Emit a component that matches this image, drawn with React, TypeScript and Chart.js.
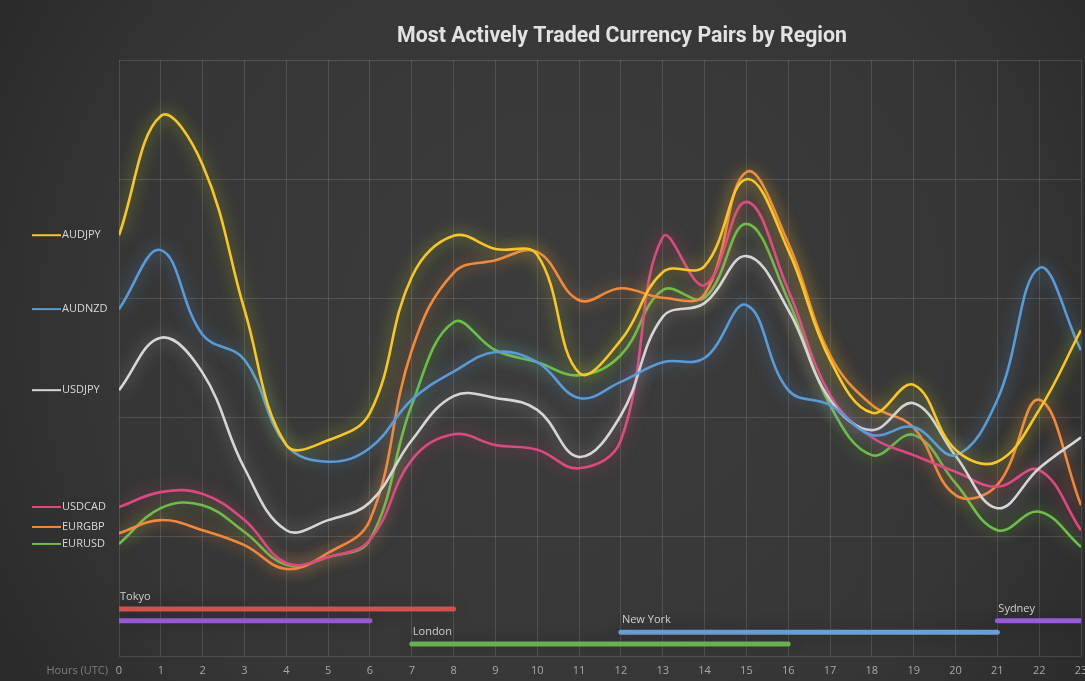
import React, { useEffect, useRef } from "react";
import { Chart, registerables } from "chart.js";

Chart.register(...registerables);

const hours = [0, 1, 2, 3, 4, 5, 6, 7, 8, 9, 10, 11, 12, 13, 14, 15, 16, 17, 18, 19, 20, 21, 22, 23];

const seriesNames = ["AUDJPY", "AUDNZD", "USDJPY", "USDCAD", "EURGBP", "EURUSD"];

const audjpy = [70.6, 90.6, 82.4, 58.1, 35.4, 36.2, 40.8, 63.6, 70.5, 68.3, 67.3, 47.5, 53.0, 64.4, 65.4, 80.0, 68.1, 49.7, 40.8, 45.5, 34.6, 32.6, 41.3, 54.7];
const audnzd = [58.2, 68.1, 53.9, 49.7, 35.4, 32.6, 34.9, 43.0, 47.7, 51.0, 49.3, 43.3, 46.0, 49.3, 50.0, 58.9, 44.6, 42.1, 37.1, 38.4, 33.7, 43.0, 65.1, 51.3];
const usdjpy = [44.6, 53.4, 47.5, 31.5, 21.1, 22.8, 25.8, 36.2, 43.6, 43.3, 41.3, 33.4, 40.4, 56.9, 59.2, 67.1, 58.1, 43.0, 37.9, 42.4, 33.6, 24.8, 31.5, 36.7];
const usdcad = [25.0, 27.5, 27.2, 22.8, 15.6, 16.6, 19.5, 32.9, 37.2, 35.4, 34.6, 31.5, 36.2, 70.3, 62.2, 76.2, 61.4, 43.8, 36.7, 33.7, 30.9, 28.4, 31.2, 21.1];
const eurgbp = [20.6, 22.8, 21.1, 18.6, 14.6, 17.3, 22.8, 51.3, 64.3, 66.4, 67.8, 59.7, 61.7, 60.1, 60.7, 81.2, 69.3, 50.5, 42.1, 38.3, 27.0, 28.7, 43.0, 25.3];
const eurusd = [18.8, 24.8, 25.3, 20.8, 15.3, 16.6, 19.5, 42.1, 56.0, 51.3, 49.3, 47.1, 50.5, 61.4, 60.1, 72.5, 59.7, 42.1, 33.7, 37.1, 29.0, 21.1, 24.2, 18.3];

const seriesValues = [audjpy, audnzd, usdjpy, usdcad, eurgbp, eurusd];
const seriesColors = ["#f6c62c", "#5b9bd5", "#d6d6d6", "#da4a80", "#f08a3e", "#6cc04a"];
const glowColors = [
  "rgba(200,215,40,0.85)",
  "rgba(91,155,213,0.8)",
  "rgba(210,210,210,0.6)",
  "rgba(217,72,126,0.7)",
  "rgba(240,138,62,0.8)",
  "rgba(120,200,70,0.8)",
];

const sessionNames = ["Tokyo", "", "London", "New York", "Sydney"];
const sessionStart = [0, 0, 7, 12, 21];
const sessionEnd = [8, 6, 16, 21, 23];
const sessionLevel = [7.9, 5.9, 2.0, 4.0, 5.9];
const sessionColors = ["#d4504c", "#9b5ad8", "#6ab04c", "#6a9fd8", "#9b5ad8"];

const titleText = "Most Actively Traded Currency Pairs by Region";
const xAxisLabel = "Hours (UTC)";

export default function App() {
  const ref = useRef<HTMLCanvasElement | null>(null);

  useEffect(() => {
    const canvas = ref.current;
    if (!canvas) return;

    const datasets: any[] = [];
    seriesNames.forEach((name, i) => {
      datasets.push({
        label: name,
        data: hours.map((h, j) => ({ x: h, y: seriesValues[i][j] })),
        borderColor: seriesColors[i],
        borderWidth: 2.6,
        pointRadius: 0,
        tension: 0.4,
        fill: false,
        glow: glowColors[i],
      });
    });
    sessionNames.forEach((name, i) => {
      datasets.push({
        label: "session-" + i,
        sessionName: name,
        data: [
          { x: sessionStart[i], y: sessionLevel[i] },
          { x: sessionEnd[i], y: sessionLevel[i] },
        ],
        borderColor: sessionColors[i],
        borderWidth: 5,
        borderCapStyle: "round",
        pointRadius: 0,
        tension: 0,
        fill: false,
        glow: "rgba(0,0,0,0.25)",
      });
    });

    const decor = {
      id: "decor",
      beforeDraw(chart: any) {
        const ctx = chart.ctx;
        const w = chart.width;
        const h = chart.height;
        ctx.save();
        const g = ctx.createRadialGradient(560, 330, 50, 560, 330, 720);
        g.addColorStop(0, "#3c3c3c");
        g.addColorStop(0.6, "#363636");
        g.addColorStop(1, "#262626");
        ctx.fillStyle = g;
        ctx.fillRect(0, 0, w, h);
        ctx.restore();
      },
      beforeDatasetDraw(chart: any, args: any) {
        const ds = chart.data.datasets[args.index];
        chart.ctx.save();
        if (ds.glow) {
          chart.ctx.shadowColor = ds.glow;
          chart.ctx.shadowBlur = 16;
        }
      },
      afterDatasetDraw(chart: any) {
        chart.ctx.restore();
      },
      afterDraw(chart: any) {
        const ctx = chart.ctx;
        const xs = chart.scales.x;
        const ys = chart.scales.y;
        ctx.save();

        // title
        ctx.fillStyle = "#e2e2e2";
        ctx.font = "bold 22px Roboto, 'Liberation Sans', sans-serif";
        ctx.textBaseline = "middle";
        ctx.textAlign = "left";
        const tw = ctx.measureText(titleText).width;
        const targetW = 450;
        ctx.save();
        ctx.translate(397, 36);
        ctx.scale(targetW / tw, 1);
        ctx.fillText(titleText, 0, 0);
        ctx.restore();

        // left legend
        const lys = seriesNames.map((_, i) => ys.getPixelForValue(seriesValues[i][0]));
        const order = lys.map((y, i) => i).sort((a, b) => lys[b] - lys[a]);
        const placed: number[] = lys.slice();
        let prev = Infinity;
        order.forEach((idx) => {
          let y = placed[idx];
          if (y > prev - 17) y = prev - 17;
          placed[idx] = y;
          prev = y;
        });
        ctx.font = "11px 'Open Sans', 'Noto Sans', sans-serif";
        ctx.textAlign = "left";
        ctx.textBaseline = "middle";
        seriesNames.forEach((name, i) => {
          const y = placed[i];
          ctx.strokeStyle = seriesColors[i];
          ctx.lineWidth = 2;
          ctx.beginPath();
          ctx.moveTo(32, y);
          ctx.lineTo(61, y);
          ctx.stroke();
          ctx.fillStyle = "#d8d8d8";
          ctx.fillText(name, 62, y);
        });

        // session labels
        ctx.font = "11px 'Open Sans', 'Noto Sans', sans-serif";
        ctx.fillStyle = "#cfcfcf";
        ctx.textBaseline = "middle";
        sessionNames.forEach((name, i) => {
          if (!name) return;
          const x = xs.getPixelForValue(sessionStart[i]);
          const y = ys.getPixelForValue(sessionLevel[i]) - 12;
          ctx.fillText(name, x + 1, y);
        });

        // x tick labels
        ctx.fillStyle = "#a8a8a8";
        ctx.font = "11px 'Open Sans', 'Noto Sans', sans-serif";
        ctx.textAlign = "center";
        hours.forEach((hr) => {
          ctx.fillText(String(hr), xs.getPixelForValue(hr), 671);
        });
        ctx.textAlign = "right";
        ctx.fillStyle = "#7e7e7e";
        ctx.fillText(xAxisLabel, 108, 671);
        ctx.restore();
      },
    };

    const chart = new Chart(canvas, {
      type: "line",
      data: { datasets },
      options: {
        animation: false,
        responsive: false,
        maintainAspectRatio: false,
        devicePixelRatio: 1,
        layout: { padding: { left: 119, top: 60, right: 4, bottom: 25 } },
        plugins: { legend: { display: false }, tooltip: { enabled: false }, title: { display: false } },
        scales: {
          x: {
            type: "linear",
            min: 0,
            max: 23,
            ticks: { display: false, stepSize: 1, maxTicksLimit: 40 },
            grid: { color: "rgba(255,255,255,0.13)", drawTicks: false },
            border: { display: false },
          },
          y: {
            min: 0,
            max: 100,
            ticks: { display: false, stepSize: 20 },
            grid: { color: "rgba(255,255,255,0.13)", drawTicks: false },
            border: { display: false },
          },
        },
      } as any,
      plugins: [decor],
    });

    return () => chart.destroy();
  }, []);

  return (
    <div style={{ position: "absolute", left: 0, top: 0, width: 1085, height: 681, overflow: "hidden" }}>
      <canvas ref={ref} width={1085} height={681} style={{ display: "block" }} />
    </div>
  );
}
